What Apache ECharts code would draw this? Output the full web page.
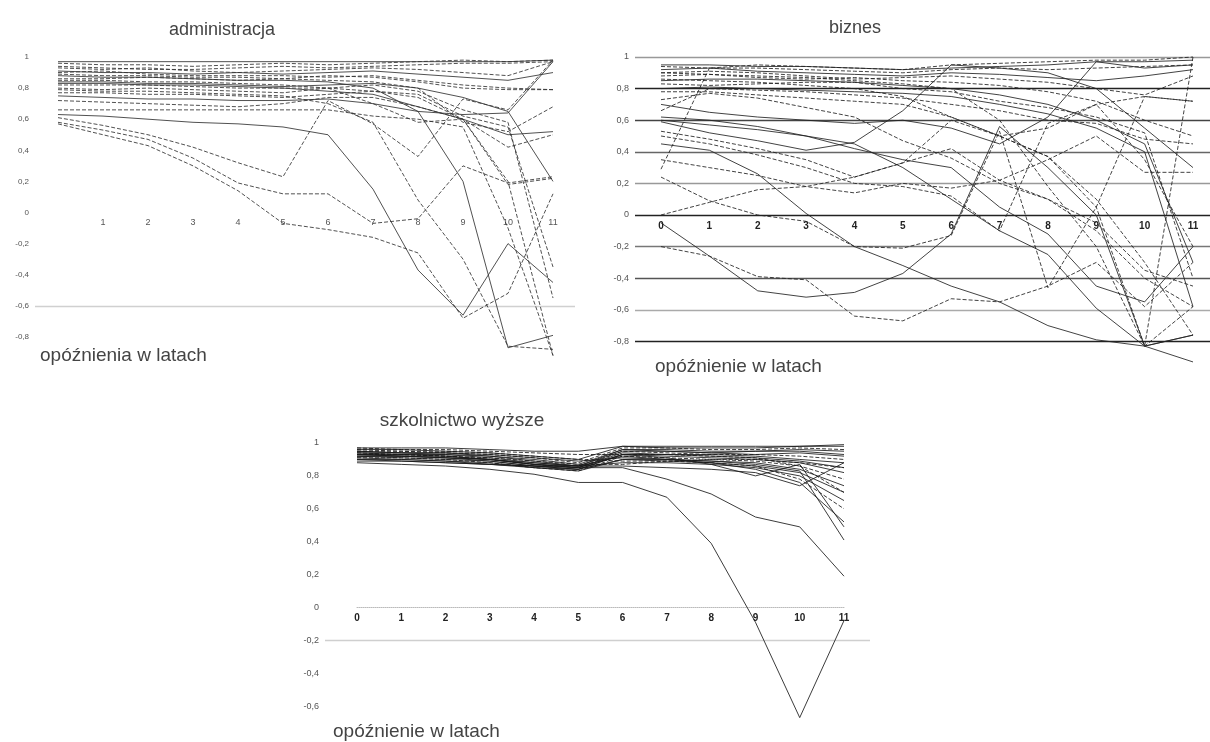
<!DOCTYPE html>
<html>
<head>
<meta charset="utf-8">
<script src="https://cdn.jsdelivr.net/npm/echarts@6/dist/echarts.min.js"></script>
<style>
  html, body { margin: 0; padding: 0; background: #fff; }
  #chart { width: 1210px; height: 742px; }
</style>
</head>
<body>
<div id="chart"></div>
<script>
// opóźnienie w latach (oś X)
var lags = [0, 1, 2, 3, 4, 5, 6, 7, 8, 9, 10, 11];

// administracja
var admLines = [
  [0.97, 0.97, 0.97, 0.97, 0.97, 0.97, 0.97, 0.97, 0.97, 0.97, 0.97, 0.98],
  [0.96, 0.95, 0.95, 0.94, 0.95, 0.96, 0.95, 0.96, 0.97, 0.98, 0.97, 0.98],
  [0.94, 0.93, 0.92, 0.92, 0.93, 0.94, 0.93, 0.94, 0.95, 0.96, 0.96, 0.97],
  [0.93, 0.92, 0.93, 0.91, 0.90, 0.91, 0.92, 0.93, 0.92, 0.90, 0.88, 0.97],
  [0.91, 0.90, 0.90, 0.89, 0.90, 0.89, 0.90, 0.91, 0.89, 0.87, 0.85, 0.90],
  [0.90, 0.91, 0.89, 0.88, 0.88, 0.88, 0.87, 0.88, 0.85, 0.82, 0.80, 0.79],
  [0.86, 0.86, 0.87, 0.86, 0.85, 0.86, 0.88, 0.87, 0.84, 0.80, 0.79, 0.79],
  [0.84, 0.84, 0.83, 0.83, 0.82, 0.81, 0.82, 0.83, 0.80, 0.74, 0.65, 0.20],
  [0.82, 0.82, 0.82, 0.81, 0.80, 0.80, 0.80, 0.78, 0.74, 0.60, 0.42, 0.50],
  [0.80, 0.79, 0.80, 0.79, 0.78, 0.77, 0.80, 0.82, 0.78, 0.66, 0.58, -0.55],
  [0.77, 0.77, 0.76, 0.76, 0.75, 0.74, 0.76, 0.78, 0.76, 0.62, 0.55, -0.35],
  [0.75, 0.74, 0.73, 0.73, 0.72, 0.72, 0.73, 0.70, 0.65, 0.63, 0.64, 0.97],
  [0.72, 0.71, 0.70, 0.69, 0.68, 0.70, 0.74, 0.74, 0.68, 0.60, 0.18, 0.22],
  [0.66, 0.66, 0.66, 0.66, 0.66, 0.66, 0.66, 0.62, 0.60, 0.55, -0.10, -0.92],
  [0.63, 0.62, 0.60, 0.58, 0.57, 0.55, 0.50, 0.15, -0.37, -0.66, -0.20, -0.45],
  [0.61, 0.56, 0.50, 0.42, 0.32, 0.23, 0.72, 0.57, 0.36, 0.73, 0.66, 0.98],
  [0.58, 0.53, 0.47, 0.35, 0.19, 0.12, 0.12, -0.07, -0.04, 0.30, 0.19, 0.23],
  [0.57, 0.50, 0.43, 0.30, 0.14, -0.07, -0.11, -0.16, -0.26, -0.68, -0.52, 0.12],
  [0.88, 0.87, 0.87, 0.86, 0.85, 0.85, 0.84, 0.80, 0.65, 0.20, -0.87, -0.79],
  [0.85, 0.85, 0.84, 0.84, 0.83, 0.82, 0.80, 0.70, 0.58, 0.60, 0.20, -0.92],
  [0.79, 0.78, 0.78, 0.77, 0.76, 0.75, 0.70, 0.58, 0.08, -0.30, -0.86, -0.88],
  [0.83, 0.83, 0.82, 0.82, 0.81, 0.80, 0.78, 0.76, 0.68, 0.60, 0.50, 0.52],
  [0.89, 0.88, 0.88, 0.87, 0.87, 0.86, 0.85, 0.84, 0.80, 0.58, 0.52, 0.68]
];

// biznes
var bizLines = [
  [0.29, 0.93, 0.95, 0.94, 0.93, 0.92, 0.95, 0.96, 0.97, 0.98, 0.98, 1.00],
  [0.95, 0.95, 0.94, 0.94, 0.93, 0.92, 0.93, 0.94, 0.95, 0.97, 0.97, 0.98],
  [0.94, 0.93, 0.93, 0.92, 0.91, 0.90, 0.92, 0.93, 0.92, 0.93, 0.94, 0.95],
  [0.92, 0.93, 0.91, 0.90, 0.89, 0.88, 0.90, 0.89, 0.87, 0.85, 0.88, 0.92],
  [0.90, 0.91, 0.90, 0.88, 0.86, 0.87, 0.88, 0.86, 0.84, 0.80, 0.76, 0.88],
  [0.88, 0.89, 0.87, 0.86, 0.87, 0.85, 0.84, 0.82, 0.78, 0.72, 0.60, 0.50],
  [0.85, 0.86, 0.86, 0.85, 0.84, 0.82, 0.80, 0.76, 0.70, 0.60, 0.45, -0.30],
  [0.83, 0.82, 0.83, 0.84, 0.84, 0.80, 0.78, 0.72, 0.68, 0.62, 0.52, -0.40],
  [0.80, 0.81, 0.80, 0.79, 0.78, 0.77, 0.75, 0.70, 0.64, 0.55, 0.40, -0.58],
  [0.66, 0.80, 0.79, 0.78, 0.76, 0.74, 0.70, 0.66, 0.60, 0.58, 0.48, 0.45],
  [0.73, 0.77, 0.74, 0.68, 0.62, 0.47, 0.36, 0.20, 0.10, -0.05, -0.35, -0.45],
  [0.59, 0.52, 0.47, 0.41, 0.46, 0.66, 0.95, 0.93, 0.90, 0.80, 0.55, 0.30],
  [0.53, 0.48, 0.42, 0.35, 0.24, 0.33, 0.60, 0.50, 0.37, 0.10, -0.30, -0.76],
  [0.45, 0.41, 0.26, 0.01, -0.20, -0.32, -0.45, -0.55, -0.70, -0.79, -0.83, -0.93],
  [0.24, 0.09, 0.00, -0.04, -0.20, -0.21, -0.13, 0.53, -0.46, 0.05, 0.75, 0.72],
  [0.00, 0.08, 0.16, 0.18, 0.24, 0.33, 0.42, 0.22, 0.10, -0.10, -0.40, -0.58],
  [-0.05, -0.26, -0.48, -0.52, -0.49, -0.37, -0.12, 0.56, 0.30, 0.00, -0.83, -0.76],
  [-0.20, -0.26, -0.39, -0.41, -0.64, -0.67, -0.53, -0.55, -0.45, -0.30, -0.58, -0.30],
  [0.70, 0.65, 0.62, 0.60, 0.58, 0.60, 0.55, 0.45, 0.62, 0.97, 0.93, 0.95],
  [0.86, 0.85, 0.84, 0.82, 0.80, 0.75, 0.62, 0.50, 0.37, 0.05, -0.83, 1.00],
  [0.90, 0.89, 0.88, 0.87, 0.85, 0.83, 0.80, 0.60, 0.18, -0.20, -0.83, -0.58],
  [0.60, 0.57, 0.54, 0.50, 0.45, 0.30, 0.10, -0.10, -0.25, -0.59, -0.83, -0.76],
  [0.35, 0.30, 0.25, 0.18, 0.14, 0.20, 0.17, 0.22, 0.35, 0.50, 0.27, 0.27],
  [0.62, 0.60, 0.56, 0.50, 0.42, 0.35, 0.30, 0.05, -0.12, -0.45, -0.55, -0.20],
  [0.78, 0.78, 0.76, 0.74, 0.72, 0.70, 0.62, 0.50, 0.55, 0.70, 0.75, 0.72],
  [0.50, 0.45, 0.38, 0.30, 0.20, 0.18, 0.12, -0.10, 0.58, 0.70, 0.35, -0.20]
];

// szkolnictwo wyższe
var szkLines = [
  [0.97, 0.97, 0.97, 0.96, 0.95, 0.95, 0.98, 0.98, 0.98, 0.98, 0.98, 0.99],
  [0.96, 0.96, 0.95, 0.94, 0.92, 0.90, 0.98, 0.97, 0.97, 0.97, 0.98, 0.98],
  [0.95, 0.95, 0.94, 0.93, 0.91, 0.88, 0.97, 0.97, 0.96, 0.96, 0.97, 0.96],
  [0.95, 0.94, 0.94, 0.92, 0.90, 0.87, 0.96, 0.96, 0.95, 0.95, 0.96, 0.95],
  [0.94, 0.94, 0.93, 0.92, 0.89, 0.86, 0.96, 0.95, 0.94, 0.95, 0.95, 0.93],
  [0.94, 0.93, 0.93, 0.91, 0.88, 0.86, 0.95, 0.95, 0.94, 0.93, 0.94, 0.92],
  [0.93, 0.93, 0.92, 0.90, 0.87, 0.85, 0.95, 0.94, 0.93, 0.93, 0.92, 0.90],
  [0.93, 0.92, 0.92, 0.90, 0.87, 0.85, 0.94, 0.93, 0.93, 0.92, 0.90, 0.88],
  [0.92, 0.92, 0.91, 0.89, 0.86, 0.84, 0.93, 0.93, 0.92, 0.91, 0.89, 0.85],
  [0.92, 0.91, 0.90, 0.89, 0.86, 0.84, 0.93, 0.92, 0.91, 0.90, 0.88, 0.82],
  [0.91, 0.91, 0.90, 0.88, 0.85, 0.83, 0.92, 0.91, 0.90, 0.89, 0.86, 0.78],
  [0.91, 0.90, 0.89, 0.88, 0.85, 0.84, 0.90, 0.90, 0.89, 0.88, 0.84, 0.74],
  [0.90, 0.90, 0.89, 0.87, 0.85, 0.83, 0.90, 0.89, 0.88, 0.86, 0.82, 0.70],
  [0.93, 0.92, 0.91, 0.90, 0.88, 0.86, 0.88, 0.88, 0.87, 0.85, 0.80, 0.65],
  [0.94, 0.93, 0.92, 0.91, 0.89, 0.87, 0.87, 0.89, 0.88, 0.86, 0.78, 0.60],
  [0.92, 0.92, 0.91, 0.90, 0.87, 0.86, 0.92, 0.90, 0.88, 0.84, 0.76, 0.52],
  [0.93, 0.93, 0.92, 0.90, 0.87, 0.85, 0.93, 0.91, 0.87, 0.80, 0.87, 0.49],
  [0.95, 0.94, 0.94, 0.93, 0.91, 0.89, 0.91, 0.90, 0.89, 0.87, 0.83, 0.41],
  [0.96, 0.95, 0.95, 0.94, 0.92, 0.90, 0.89, 0.89, 0.90, 0.90, 0.88, 0.85],
  [0.89, 0.89, 0.88, 0.87, 0.86, 0.86, 0.86, 0.85, 0.84, 0.82, 0.74, 0.88],
  [0.88, 0.87, 0.86, 0.84, 0.81, 0.76, 0.76, 0.67, 0.39, -0.09, -0.67, -0.08],
  [0.90, 0.89, 0.88, 0.87, 0.86, 0.85, 0.85, 0.78, 0.69, 0.55, 0.49, 0.19],
  [0.97, 0.96, 0.96, 0.95, 0.94, 0.93, 0.93, 0.93, 0.92, 0.91, 0.86, 0.70]
];

var DASH = [4, 2];
var FONT = '"Liberation Sans", Arial, sans-serif';

function outerY(min, colors, hideBelow, size) {
    return {
        type: 'value', min: min, max: 1, interval: 0.2,
        axisLine: { show: false }, axisTick: { show: false },
        axisLabel: {
            fontSize: size, color: '#555', fontFamily: FONT, margin: 6,
            formatter: function(v) {
                if (v < hideBelow) return '';
                return String(Math.round(v * 10) / 10).replace('.', ',');
            }
        },
        splitLine: { show: true, lineStyle: { color: colors, width: 1.3 } }
    };
}

// oś kategorii przesunięta w górę do poziomu zera
function innerX(zeroOffset, axisColor, axisType, bold, hideZero) {
    return {
        type: 'category', data: lags, boundaryGap: false,
        position: 'bottom', offset: -zeroOffset,
        axisLine: { show: true, onZero: false, lineStyle: { color: axisColor, type: axisType, width: 1 } },
        axisTick: { show: false },
        axisLabel: {
            fontSize: bold ? 10 : 9, color: bold ? '#222' : '#555', fontWeight: bold ? 'bold' : 'normal',
            fontFamily: FONT, margin: 6,
            formatter: function(v) { return (hideZero && v === '0') ? '' : v; }
        },
        splitLine: { show: false }
    };
}

function innerY(min) {
    return { type: 'value', min: min, max: 1, show: false, splitLine: { show: false } };
}

var hiddenX = { type: 'value', min: 0, max: 1, show: false, splitLine: { show: false } };

var series = [];

function addLines(list, axisIdx, styles, color) {
    list.forEach(function(vals, i) {
        series.push({
            type: 'line', xAxisIndex: axisIdx, yAxisIndex: axisIdx,
            data: vals, symbol: 'none', silent: true, clip: false,
            lineStyle: { color: color, width: 1, type: styles[i % styles.length], opacity: 0.85 }
        });
    });
}

addLines(admLines, 1, ['solid', DASH, DASH, DASH, 'solid', DASH, DASH], '#333');
addLines(bizLines, 3, [DASH, 'solid', DASH, 'solid', DASH], '#222');
addLines(szkLines, 5, ['solid', 'solid', DASH, 'solid'], '#1a1a1a');

var T = 'transparent';
// kolory linii siatki od min w górę
var admGrid = [T, T, '#d0d0d0', T, T, T, T, T, T, T, T];
var bizGrid = [T, '#222', '#aaa', '#555', '#777', '#222', '#999', '#666', '#444', '#222', '#999'];
var szkGrid = [T, T, T, '#cfcfcf', T, T, T, T, T, T];

var chart = echarts.init(document.getElementById('chart'));

chart.setOption({
    animation: false,
    backgroundColor: '#fff',
    grid: [
        { left: 35, top: 57, width: 540, height: 311 },
        { left: 58, top: 57, width: 495, height: 311 },
        { left: 635, top: 57, width: 575, height: 316 },
        { left: 661, top: 57, width: 532, height: 316 },
        { left: 325, top: 443, width: 545, height: 296 },
        { left: 357, top: 443, width: 487, height: 296 }
    ],
    xAxis: [
        hiddenX,
        innerX(155.5, T, 'solid', false, true),
        hiddenX,
        innerX(158, T, 'solid', true, false),
        hiddenX,
        innerX(131.6, '#bbb', 'dotted', true, false)
    ].map(function(a, i) { return Object.assign({}, a, { gridIndex: i }); }),
    yAxis: [
        outerY(-1, admGrid, -0.9, 8),
        innerY(-1),
        outerY(-1, bizGrid, -0.9, 9),
        innerY(-1),
        outerY(-0.8, szkGrid, -0.7, 9),
        innerY(-0.8)
    ].map(function(a, i) { return Object.assign({}, a, { gridIndex: i }); }),
    graphic: [
        { type: 'text', x: 222, y: 30, style: { text: 'administracja', font: '18px ' + FONT, fill: '#444', textAlign: 'center', textVerticalAlign: 'middle' } },
        { type: 'text', x: 855, y: 28, style: { text: 'biznes', font: '18px ' + FONT, fill: '#444', textAlign: 'center', textVerticalAlign: 'middle' } },
        { type: 'text', x: 462, y: 421, style: { text: 'szkolnictwo wyższe', font: '19px ' + FONT, fill: '#444', textAlign: 'center', textVerticalAlign: 'middle' } },
        { type: 'text', x: 40, y: 356, style: { text: 'opóźnienia w latach', font: '19px ' + FONT, fill: '#444', textAlign: 'left', textVerticalAlign: 'middle' } },
        { type: 'text', x: 655, y: 367, style: { text: 'opóźnienie w latach', font: '19px ' + FONT, fill: '#444', textAlign: 'left', textVerticalAlign: 'middle' } },
        { type: 'text', x: 333, y: 732, style: { text: 'opóźnienie w latach', font: '19px ' + FONT, fill: '#444', textAlign: 'left', textVerticalAlign: 'middle' } }
    ],
    series: series
});
</script>
</body>
</html>
